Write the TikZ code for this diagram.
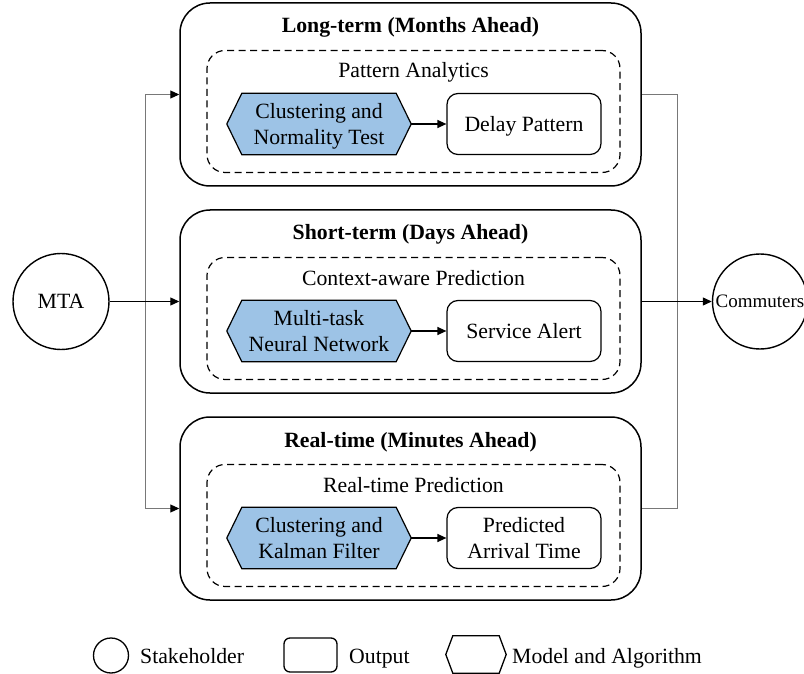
\documentclass[tikz,border=0pt]{standalone}
\usepackage{fontspec}
\setmainfont{Liberation Serif}
\usetikzlibrary{arrows.meta,calc}
\pgfdeclarelayer{background}
\pgfsetlayers{background,main}
\definecolor{modelblue}{RGB}{157,195,230}
\definecolor{linkgray}{RGB}{120,120,120}

\begin{document}
\begin{tikzpicture}[x=1pt,y=-1pt,
  every node/.style={font=\fontsize{21.75}{26}\selectfont},
  stage/.style={draw, line width=1.5pt, rounded corners=30pt,
    minimum width=461pt, minimum height=183pt, inner sep=0pt},
  group/.style={draw, line width=1.2pt, dash pattern=on 7pt off 4.5pt,
    rounded corners=18pt, minimum width=413pt, minimum height=122pt, inner sep=0pt},
  stagetitle/.style={anchor=base, inner sep=0pt, font=\fontsize{21.75}{26}\selectfont\bfseries},
  stagesub/.style={anchor=base, inner sep=0pt},
  model/.style={minimum width=154pt, minimum height=61pt, inner sep=0pt,
    align=center, text depth=0pt},
  modelshape/.style={fill=modelblue, draw, line width=1.2pt, line join=miter},
  output/.style={draw, line width=1.2pt, rounded corners=11pt,
    minimum width=154pt, minimum height=61pt, inner sep=0pt, align=center, text depth=0pt},
  actor/.style={draw, circle, line width=1.4pt, minimum size=96pt, inner sep=0pt},
  flow/.style={line width=1.2pt, -{Triangle[length=9pt,width=8pt]}},
  link/.style={draw=linkgray, line width=1pt},
  linkarrow/.style={link, -{Triangle[length=9pt,width=8pt,color=black]}},
  legendtext/.style={anchor=base west, inner sep=0pt}
]
\useasboundingbox (0,0) rectangle (804,674);

% stakeholders
\node[actor] (mta) at (61,301.5) {MTA};
\node[actor, minimum size=95pt, font=\fontsize{19}{22}\selectfont] (com) at (760,301.5) {Commuters};

% three planning horizons
\foreach \nm/\cy/\ttl/\sub in {lt/94.5/Long-term (Months Ahead)/Pattern Analytics,
                               st/301.5/Short-term (Days Ahead)/Context-aware Prediction,
                               rt/508.5/Real-time (Minutes Ahead)/Real-time Prediction}{
  \node[stage] (\nm) at (410.5,\cy) {};
  \node[stagetitle] (\nm-title) at (410.5,\cy-61.5) {\ttl};
  \node[group] (\nm-group) at (413.5,\cy+17) {};
  \node[stagesub] (\nm-sub) at (413.5,\cy-16.5) {\sub};
}

% models (hexagons) and their outputs
\node[model] (m1) at (319,124) {Clustering and\\Normality Test};
\node[model] (m2) at (319,331) {Multi-task\\Neural Network};
\node[model] (m3) at (319,538) {Clustering and\\Kalman Filter};
\node[output] (o1) at (524,124) {Delay Pattern};
\node[output] (o2) at (524,331) {Service Alert};
\node[output] (o3) at (524,538) {Predicted\\Arrival Time};

\begin{pgfonlayer}{background}
  \foreach \m in {m1,m2,m3}{
    \filldraw[modelshape] (\m.north west) -- (\m.north east) -- ([xshift=15pt]\m.east)
      -- (\m.south east) -- (\m.south west) -- ([xshift=-15pt]\m.west) -- cycle;
  }
\end{pgfonlayer}

\foreach \i in {1,2,3}{
  \coordinate (m\i-tip) at ([xshift=15pt]m\i.east);
  \draw[flow] (m\i-tip) -- (o\i);
}

% connectors between stakeholders and horizons
\coordinate (split) at (145,301.5);
\coordinate (merge) at (677,301.5);
\draw[linkarrow] (split) |- (lt.west);
\draw[linkarrow] (split) |- (rt.west);
\draw[link] (lt.east) -| (merge);
\draw[link] (rt.east) -| (merge);
\draw[flow] (mta) -- (st);
\draw[flow] (st) -- (com);

% legend
\node[draw, circle, line width=1.3pt, minimum size=35pt, inner sep=0pt] (leg-actor) at (111,655.5) {};
\node[legendtext] (leg-actor-text) at (140,663) {Stakeholder};
\node[draw, rounded corners=6pt, line width=1.3pt, minimum width=53pt,
  minimum height=34pt, inner sep=0pt] (leg-output) at (310.5,655) {};
\node[legendtext] (leg-output-text) at (349,663) {Output};
\node[minimum width=46pt, minimum height=37pt, inner sep=0pt] (leg-model) at (476,654.5) {};
\draw[line width=1.3pt, line join=miter] (leg-model.north west) -- (leg-model.north east)
  -- ([xshift=7pt]leg-model.east) -- (leg-model.south east) -- (leg-model.south west)
  -- ([xshift=-7pt]leg-model.west) -- cycle;
\node[legendtext] (leg-model-text) at (512,663) {Model and Algorithm};
\end{tikzpicture}
\end{document}
